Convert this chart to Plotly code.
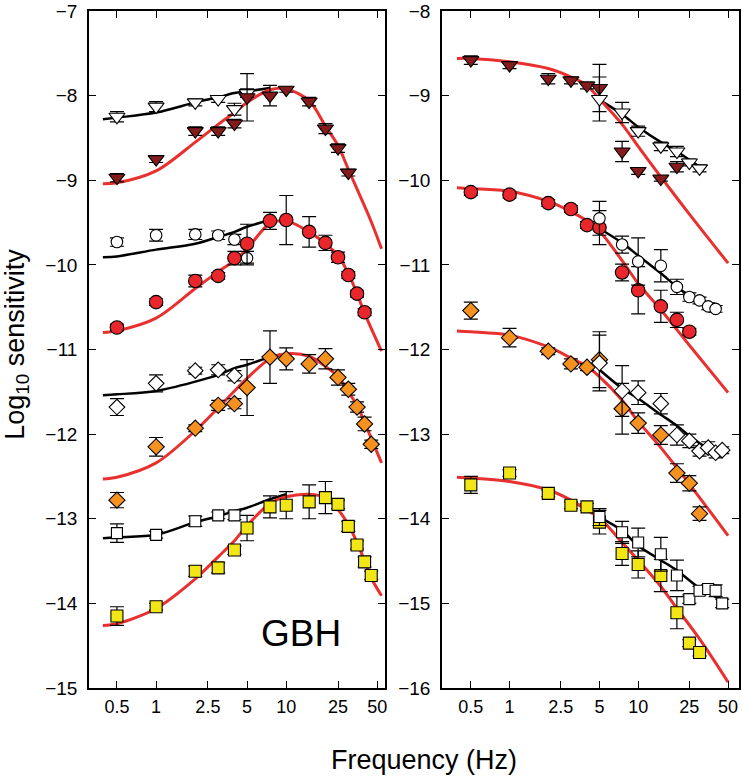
import math
import plotly.graph_objects as go

# ---------------- tick labels ----------------
X_TICKS = [0.5, 1, 2.5, 5, 10, 25, 50]
X_TICK_TEXT = ["0.5", "1", "2.5", "5", "10", "25", "50"]
L_Y_TICKS = [-15, -14, -13, -12, -11, -10, -9, -8, -7]
R_Y_TICKS = [-16, -15, -14, -13, -12, -11, -10, -9, -8]

# ---------------- LEFT panel data ----------------
L_TRI_OPEN_F = [0.5, 1, 2, 3, 4, 5]
L_TRI_OPEN_Y = [-8.25, -8.13, -8.08, -8.04, -8.16, -7.97]
L_TRI_OPEN_E = [0.06, 0.06, 0.04, 0.04, 0.07, 0.05]
L_TRI_FILL_F = [0.5, 1, 2, 3, 4, 5, 7.5, 10, 15, 20, 25, 30]
L_TRI_FILL_Y = [-8.97, -8.75, -8.42, -8.42, -8.33, -8.02, -8.0, -7.93, -8.07, -8.39, -8.62, -8.91]
L_TRI_FILL_E = [0.05, 0.04, 0.05, 0.05, 0.05, 0.28, 0.12, 0.03, 0.05, 0.06, 0.05, 0.04]

L_CIR_OPEN_F = [0.5, 1, 2, 3, 4, 5]
L_CIR_OPEN_Y = [-9.73, -9.65, -9.64, -9.65, -9.70, -9.92]
L_CIR_OPEN_E = [0.05, 0.07, 0.06, 0.05, 0.06, 0.08]
L_CIR_FILL_F = [0.5, 1, 2, 3, 4, 5, 7.5, 10, 15, 20, 25, 30, 35, 40]
L_CIR_FILL_Y = [-10.74, -10.44, -10.19, -10.13, -9.92, -9.75, -9.48, -9.47, -9.61, -9.74, -9.91, -10.12, -10.34, -10.56]
L_CIR_FILL_E = [0.04, 0.04, 0.07, 0.04, 0.08, 0.23, 0.1, 0.29, 0.18, 0.09, 0.06, 0.04, 0.04, 0.04]

L_DIA_OPEN_F = [0.5, 1, 2, 3, 4]
L_DIA_OPEN_Y = [-11.68, -11.40, -11.25, -11.24, -11.31]
L_DIA_OPEN_E = [0.1, 0.1, 0.04, 0.06, 0.06]
L_DIA_FILL_F = [0.5, 1, 2, 3, 4, 5, 7.5, 10, 15, 20, 25, 30, 35, 40, 45]
L_DIA_FILL_Y = [-12.78, -12.15, -11.93, -11.66, -11.64, -11.45, -11.09, -11.11, -11.17, -11.11, -11.33, -11.47, -11.68, -11.88, -12.12]
L_DIA_FILL_E = [0.09, 0.11, 0.04, 0.06, 0.06, 0.33, 0.31, 0.13, 0.11, 0.12, 0.09, 0.07, 0.06, 0.08, 0.05]

L_SQ_OPEN_F = [0.5, 1, 2, 3, 4]
L_SQ_OPEN_Y = [-13.17, -13.19, -13.03, -12.96, -12.96]
L_SQ_OPEN_E = [0.11, 0.04, 0.06, 0.04, 0.05]
L_SQ_FILL_F = [0.5, 1, 2, 3, 4, 5, 7.5, 10, 15, 20, 25, 30, 35, 40, 45]
L_SQ_FILL_Y = [-14.15, -14.04, -13.62, -13.58, -13.37, -13.11, -12.86, -12.84, -12.80, -12.75, -12.83, -13.09, -13.31, -13.51, -13.67]
L_SQ_FILL_E = [0.11, 0.04, 0.06, 0.06, 0.05, 0.15, 0.13, 0.16, 0.2, 0.19, 0.05, 0.06, 0.05, 0.06, 0.05]

# left fitted curves
L_RED_TRI_F = [0.39, 0.5, 1, 2, 3, 4, 5, 7.5, 10, 15, 20, 25, 30, 45, 54]
L_RED_TRI_Y = [-9.04, -9.03, -8.89, -8.55, -8.34, -8.2, -8.08, -7.93, -7.92, -8.06, -8.36, -8.59, -8.87, -9.49, -9.81]
L_RED_CIR_F = [0.39, 0.5, 1, 2, 3, 4, 5, 7.5, 10, 15, 20, 25, 30, 35, 40, 54]
L_RED_CIR_Y = [-10.8, -10.78, -10.63, -10.28, -10.08, -9.95, -9.81, -9.51, -9.48, -9.61, -9.75, -9.89, -10.1, -10.34, -10.57, -11.02]
L_RED_DIA_F = [0.39, 0.5, 1, 2, 3, 4, 5, 7.5, 10, 15, 20, 25, 30, 35, 40, 45, 54]
L_RED_DIA_Y = [-12.53, -12.51, -12.34, -11.96, -11.69, -11.49, -11.34, -11.11, -11.05, -11.08, -11.2, -11.32, -11.5, -11.66, -11.86, -12.05, -12.34]
L_RED_SQ_F = [0.39, 0.5, 1, 2, 3, 4, 5, 7.5, 10, 15, 20, 25, 30, 35, 40, 45, 54]
L_RED_SQ_Y = [-14.26, -14.24, -14.06, -13.71, -13.45, -13.26, -13.08, -12.82, -12.74, -12.71, -12.75, -12.89, -13.07, -13.28, -13.5, -13.7, -13.91]

L_BLK_TRI_F = [0.39, 0.5, 1, 2, 3, 4, 5, 7.5]
L_BLK_TRI_Y = [-8.28, -8.26, -8.2, -8.08, -8.02, -7.97, -7.95, -7.91]
L_BLK_CIR_F = [0.39, 0.5, 1, 2, 3, 4, 5, 7.5]
L_BLK_CIR_Y = [-9.91, -9.9, -9.82, -9.75, -9.67, -9.61, -9.55, -9.47]
L_BLK_DIA_F = [0.39, 0.5, 1, 2, 3, 4, 5, 7.5, 9]
L_BLK_DIA_Y = [-11.54, -11.53, -11.49, -11.38, -11.3, -11.22, -11.18, -11.09, -11.06]
L_BLK_SQ_F = [0.39, 0.5, 1, 2, 3, 4, 5, 7.5, 10]
L_BLK_SQ_Y = [-13.23, -13.22, -13.19, -13.04, -12.97, -12.91, -12.87, -12.77, -12.71]

# ---------------- RIGHT panel data ----------------
R_TRI_FILL_F = [0.5, 1, 2, 3, 4, 5, 7.5, 10, 15, 20]
R_TRI_FILL_Y = [-8.58, -8.64, -8.80, -8.82, -8.88, -8.91, -9.66, -9.89, -9.98, -9.84]
R_TRI_FILL_E = [0.05, 0.04, 0.06, 0.04, 0.04, 0.28, 0.12, 0.04, 0.03, 0.06]
R_TRI_OPEN_F = [5, 7.5, 10, 15, 20, 25, 30]
R_TRI_OPEN_Y = [-9.04, -9.2, -9.42, -9.6, -9.66, -9.79, -9.86]
R_TRI_OPEN_E = [0.26, 0.12, 0.06, 0.05, 0.06, 0.04, 0.04]

R_CIR_FILL_F = [0.5, 1, 2, 3, 4, 5, 7.5, 10, 15, 20, 25]
R_CIR_FILL_Y = [-10.14, -10.17, -10.27, -10.34, -10.53, -10.56, -11.09, -11.30, -11.49, -11.65, -11.79]
R_CIR_FILL_E = [0.04, 0.04, 0.04, 0.04, 0.04, 0.2, 0.1, 0.28, 0.19, 0.09, 0.04]
R_CIR_OPEN_F = [5, 7.5, 10, 15, 20, 25, 30, 35, 40]
R_CIR_OPEN_Y = [-10.45, -10.76, -10.96, -11.01, -11.26, -11.38, -11.42, -11.49, -11.52]
R_CIR_OPEN_E = [0.2, 0.1, 0.28, 0.19, 0.09, 0.05, 0.04, 0.04, 0.04]

R_DIA_FILL_F = [0.5, 1, 2, 3, 4, 5, 7.5, 10, 15, 20, 25, 30]
R_DIA_FILL_Y = [-11.54, -11.86, -12.02, -12.17, -12.21, -12.12, -12.70, -12.87, -13.01, -13.46, -13.58, -13.94]
R_DIA_FILL_E = [0.1, 0.11, 0.04, 0.06, 0.04, 0.33, 0.3, 0.12, 0.11, 0.11, 0.09, 0.08]
R_DIA_OPEN_F = [5, 7.5, 10, 15, 20, 25, 30, 35, 40, 45]
R_DIA_OPEN_Y = [-12.16, -12.49, -12.51, -12.64, -13.01, -13.08, -13.2, -13.16, -13.22, -13.19]
R_DIA_OPEN_E = [0.33, 0.3, 0.14, 0.12, 0.12, 0.08, 0.06, 0.07, 0.06, 0.04]

R_SQ_FILL_F = [0.5, 1, 2, 3, 4, 5, 7.5, 10, 15, 20, 25, 30]
R_SQ_FILL_Y = [-13.6, -13.46, -13.70, -13.84, -13.86, -14.04, -14.41, -14.54, -14.67, -15.11, -15.47, -15.58]
R_SQ_FILL_E = [0.1, 0.04, 0.04, 0.04, 0.04, 0.14, 0.14, 0.16, 0.19, 0.19, 0.04, 0.04]
R_SQ_OPEN_F = [5, 7.5, 10, 15, 20, 25, 30, 35, 40, 45]
R_SQ_OPEN_Y = [-13.98, -14.16, -14.28, -14.42, -14.67, -14.95, -14.85, -14.83, -14.85, -15.0]
R_SQ_OPEN_E = [0.1, 0.13, 0.17, 0.2, 0.18, 0.05, 0.05, 0.05, 0.07, 0.05]

R_RED_TRI_F = [0.39, 0.5, 1, 2, 3, 4, 5, 7.5, 10, 15, 25, 50]
R_RED_TRI_Y = [-8.56, -8.56, -8.6, -8.68, -8.78, -8.88, -9.04, -9.34, -9.6, -9.96, -10.4, -10.98]
R_RED_CIR_F = [0.39, 0.5, 1, 2, 3, 4, 5, 7.5, 10, 15, 25, 50]
R_RED_CIR_Y = [-10.09, -10.1, -10.13, -10.25, -10.37, -10.48, -10.6, -10.95, -11.22, -11.53, -11.95, -12.51]
R_RED_DIA_F = [0.39, 0.5, 1, 2, 3, 4, 5, 7.5, 10, 15, 25, 50]
R_RED_DIA_Y = [-11.78, -11.79, -11.83, -11.97, -12.1, -12.2, -12.32, -12.6, -12.85, -13.16, -13.59, -14.2]
R_RED_SQ_F = [0.39, 0.5, 1, 2, 3, 4, 5, 7.5, 10, 15, 20, 30, 50]
R_RED_SQ_Y = [-13.51, -13.52, -13.56, -13.66, -13.78, -13.9, -13.99, -14.28, -14.49, -14.8, -15.06, -15.42, -15.93]

R_BLK_TRI_F = [5, 7.5, 10, 15, 20, 30]
R_BLK_TRI_Y = [-9.05, -9.22, -9.37, -9.55, -9.66, -9.84]
R_BLK_CIR_F = [5, 7.5, 10, 15, 20, 25, 30, 40]
R_BLK_CIR_Y = [-10.57, -10.74, -10.89, -11.1, -11.26, -11.36, -11.42, -11.52]
R_BLK_DIA_F = [5, 7.5, 10, 15, 20, 25, 35]
R_BLK_DIA_Y = [-12.24, -12.46, -12.58, -12.77, -12.9, -13.02, -13.18]
R_BLK_SQ_F = [5, 7.5, 10, 15, 20, 30, 45]
R_BLK_SQ_Y = [-13.98, -14.14, -14.32, -14.49, -14.61, -14.82, -14.96]

# ---------------- styles ----------------
C_TRI = "#861b1d"
C_CIR = "#e8262b"
C_DIA = "#f5911e"
C_SQ = "#f3e617"
C_REDLINE = "#e8302f"
FONT = "Liberation Sans, Arial, sans-serif"

fig = go.Figure()


def add_line(f, y, color, width, xa, ya):
    fig.add_trace(go.Scatter(x=f, y=y, mode="lines", xaxis=xa, yaxis=ya,
                             line=dict(color=color, width=width, shape="spline", smoothing=0.9),
                             hoverinfo="skip", showlegend=False))


def add_pts(f, y, e, symbol, fill, size, xa, ya):
    fig.add_trace(go.Scatter(x=f, y=y, mode="markers", xaxis=xa, yaxis=ya,
                             error_y=dict(type="data", array=e, visible=True, color="black",
                                          thickness=1.2, width=7),
                             marker=dict(symbol=symbol, size=size, color=fill,
                                         line=dict(color="black", width=1.1)),
                             showlegend=False))


# left lines
for f, y in [(L_BLK_TRI_F, L_BLK_TRI_Y), (L_BLK_CIR_F, L_BLK_CIR_Y),
             (L_BLK_DIA_F, L_BLK_DIA_Y), (L_BLK_SQ_F, L_BLK_SQ_Y)]:
    add_line(f, y, "black", 2.5, "x", "y")
for f, y in [(L_RED_TRI_F, L_RED_TRI_Y), (L_RED_CIR_F, L_RED_CIR_Y),
             (L_RED_DIA_F, L_RED_DIA_Y), (L_RED_SQ_F, L_RED_SQ_Y)]:
    add_line(f, y, C_REDLINE, 3, "x", "y")
# right lines
for f, y in [(R_BLK_TRI_F, R_BLK_TRI_Y), (R_BLK_CIR_F, R_BLK_CIR_Y),
             (R_BLK_DIA_F, R_BLK_DIA_Y), (R_BLK_SQ_F, R_BLK_SQ_Y)]:
    add_line(f, y, "black", 2.5, "x2", "y2")
for f, y in [(R_RED_TRI_F, R_RED_TRI_Y), (R_RED_CIR_F, R_RED_CIR_Y),
             (R_RED_DIA_F, R_RED_DIA_Y), (R_RED_SQ_F, R_RED_SQ_Y)]:
    add_line(f, y, C_REDLINE, 3, "x2", "y2")

S_TRI, S_CIR_O, S_CIR, S_DIA_O, S_DIA, S_SQ_O, S_SQ = 14, 11.5, 13.5, 12, 12.5, 11, 12

# left points
add_pts(L_TRI_OPEN_F, L_TRI_OPEN_Y, L_TRI_OPEN_E, "triangle-down", "white", S_TRI, "x", "y")
add_pts(L_TRI_FILL_F, L_TRI_FILL_Y, L_TRI_FILL_E, "triangle-down", C_TRI, S_TRI, "x", "y")
add_pts(L_CIR_OPEN_F, L_CIR_OPEN_Y, L_CIR_OPEN_E, "circle", "white", S_CIR_O, "x", "y")
add_pts(L_CIR_FILL_F, L_CIR_FILL_Y, L_CIR_FILL_E, "circle", C_CIR, S_CIR, "x", "y")
add_pts(L_DIA_OPEN_F, L_DIA_OPEN_Y, L_DIA_OPEN_E, "diamond", "white", S_DIA_O, "x", "y")
add_pts(L_DIA_FILL_F, L_DIA_FILL_Y, L_DIA_FILL_E, "diamond", C_DIA, S_DIA, "x", "y")
add_pts(L_SQ_OPEN_F, L_SQ_OPEN_Y, L_SQ_OPEN_E, "square", "white", S_SQ_O, "x", "y")
add_pts(L_SQ_FILL_F, L_SQ_FILL_Y, L_SQ_FILL_E, "square", C_SQ, S_SQ, "x", "y")

# right points
add_pts(R_TRI_FILL_F, R_TRI_FILL_Y, R_TRI_FILL_E, "triangle-down", C_TRI, S_TRI, "x2", "y2")
add_pts(R_TRI_OPEN_F, R_TRI_OPEN_Y, R_TRI_OPEN_E, "triangle-down", "white", S_TRI, "x2", "y2")
add_pts(R_CIR_FILL_F, R_CIR_FILL_Y, R_CIR_FILL_E, "circle", C_CIR, S_CIR, "x2", "y2")
add_pts(R_CIR_OPEN_F, R_CIR_OPEN_Y, R_CIR_OPEN_E, "circle", "white", S_CIR_O, "x2", "y2")
add_pts(R_DIA_FILL_F, R_DIA_FILL_Y, R_DIA_FILL_E, "diamond", C_DIA, S_DIA, "x2", "y2")
add_pts(R_DIA_OPEN_F, R_DIA_OPEN_Y, R_DIA_OPEN_E, "diamond", "white", S_DIA_O, "x2", "y2")
add_pts(R_SQ_FILL_F, R_SQ_FILL_Y, R_SQ_FILL_E, "square", C_SQ, S_SQ, "x2", "y2")
add_pts(R_SQ_OPEN_F, R_SQ_OPEN_Y, R_SQ_OPEN_E, "square", "white", S_SQ_O, "x2", "y2")

W, H = 742, 778
ML, MR, MT, MB = 89, 1, 8, 90
PW = W - ML - MR
PH = H - MT - MB


def px_x(px):
    return (px - ML) / PW


def px_y(py):
    return (H - MB - py) / PH


axis_common = dict(type="log", showline=True, linecolor="black", linewidth=1.5, mirror="ticks",
                   ticks="inside", ticklen=7, tickcolor="black", tickwidth=1.3,
                   showgrid=False, zeroline=False, tickvals=X_TICKS, ticktext=X_TICK_TEXT,
                   ticklabeloverflow="allow", ticklabelstandoff=2,
                   tickfont=dict(size=18, color="black", family=FONT))
yaxis_common = dict(showline=True, linecolor="black", linewidth=1.5, mirror="ticks",
                    ticks="inside", ticklen=7, tickcolor="black", tickwidth=1.3,
                    showgrid=False, zeroline=False, ticklabelstandoff=6,
                    ticklabeloverflow="allow",
                    tickfont=dict(size=19, color="black", family=FONT))

fig.update_layout(
    width=W, height=H,
    margin=dict(l=ML, r=MR, t=MT, b=MB),
    paper_bgcolor="white", plot_bgcolor="white",
    font=dict(family=FONT, color="black"),
    xaxis=dict(domain=[0, px_x(386)], range=[math.log10(0.305), math.log10(57.5)], anchor="y",
               **axis_common),
    xaxis2=dict(domain=[px_x(443), 1], range=[math.log10(0.298), math.log10(60.8)], anchor="y2",
                **axis_common),
    yaxis=dict(range=[-15, -7], tickvals=L_Y_TICKS, anchor="x", **yaxis_common),
    yaxis2=dict(range=[-16, -8], tickvals=R_Y_TICKS, anchor="x2", **yaxis_common),
    annotations=[
        dict(text="Log<sub>10</sub> sensitivity", xref="paper", yref="paper",
             x=px_x(16), y=px_y(343), textangle=-90, showarrow=False,
             font=dict(size=27, family=FONT, color="black"), xanchor="center", yanchor="middle"),
        dict(text="Frequency (Hz)", xref="paper", yref="paper",
             x=px_x(425), y=px_y(760), showarrow=False,
             font=dict(size=27, family=FONT, color="black"), xanchor="center", yanchor="middle"),
        dict(text="GBH", xref="paper", yref="paper",
             x=px_x(302), y=px_y(633), showarrow=False,
             font=dict(size=37, family=FONT, color="black"), xanchor="center", yanchor="middle"),
    ],
)

fig.write_html("out.html", config={"displayModeBar": False},
               post_script="document.body.style.margin='0';document.body.style.overflow='hidden';")
